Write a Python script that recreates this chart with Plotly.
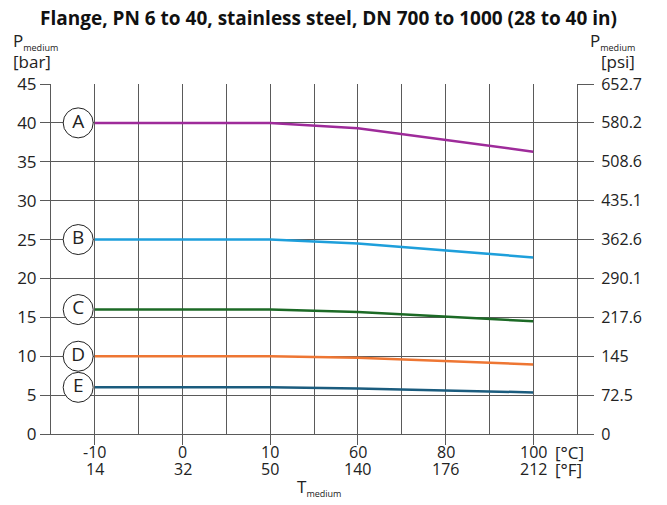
import plotly.graph_objects as go

temps_c = ["-10", "0", "10", "60", "80", "100"]
temps_f = ["14", "32", "50", "140", "176", "212"]
series_names = ["A", "B", "C", "D", "E"]
series_values = {
    "A": [40, 40, 40, 39.3, 37.8, 36.3],
    "B": [25, 25, 25, 24.5, 23.6, 22.7],
    "C": [16, 16, 16, 15.7, 15.1, 14.5],
    "D": [10, 10, 10, 9.8, 9.35, 8.95],
    "E": [6, 6, 6, 5.85, 5.6, 5.35],
}
series_colors = {
    "A": "#9E2B9A",
    "B": "#1E9FDB",
    "C": "#1C6A26",
    "D": "#EE7633",
    "E": "#1B5C7E",
}
bar_ticks = [0, 5, 10, 15, 20, 25, 30, 35, 40, 45]
psi_labels = ["0", "72.5", "145", "217.6", "290.1", "362.6", "435.1", "508.6", "580.2", "652.7"]

FONT = "Open Sans"
GRID = "#5a5a5a"
TXT = "#222"
xi = list(range(len(temps_c)))

# page body has an 8px margin; the figure is sized to fit inside the window
W, H = 659, 497

fig = go.Figure()
for name in series_names:
    fig.add_trace(go.Scatter(
        x=xi, y=series_values[name], mode="lines",
        line=dict(color=series_colors[name], width=2.5),
        showlegend=False, hoverinfo="skip", cliponaxis=False))

# labelled circles
fig.add_trace(go.Scatter(
    x=[-0.19] * len(series_names),
    y=[series_values[n][0] for n in series_names],
    mode="markers+text",
    text=series_names,
    textposition="middle center",
    textfont=dict(family=FONT, size=19, color=TXT),
    marker=dict(size=30, color="white", line=dict(color="#222", width=1)),
    showlegend=False, hoverinfo="skip", cliponaxis=False))

# invisible trace for right axis
fig.add_trace(go.Scatter(x=[0], y=[0], yaxis="y2", mode="markers",
                         marker=dict(opacity=0), showlegend=False, hoverinfo="skip"))

fig.update_layout(
    width=W, height=H,
    margin=dict(l=43, r=90, t=76, b=71, autoexpand=False),
    paper_bgcolor="white", plot_bgcolor="white",
    font=dict(family=FONT, size=16, color=TXT),
    title=dict(text="<b>Flange, PN 6 to 40, stainless steel, DN 700 to 1000 (28 to 40 in)</b>",
               x=(328.5 - 8) / W, xanchor="center", y=1 - 10 / H, yanchor="middle",
               font=dict(family=FONT, size=19, color="#111")),
    xaxis=dict(
        range=[-0.5, 5.5], tickmode="array", tickvals=xi, showticklabels=False,
        ticks="outside", ticklen=10, tickcolor=GRID, tickwidth=1,
        showgrid=True, gridcolor=GRID, gridwidth=1,
        minor=dict(tickvals=[-0.5, 0.5, 1.5, 2.5, 3.5, 4.5, 5.5], showgrid=True,
                   gridcolor=GRID, gridwidth=1, ticks=""),
        showline=True, linecolor=GRID, linewidth=1, zeroline=False,
        automargin=False, fixedrange=True),
    yaxis=dict(
        range=[0, 45], tickmode="array", tickvals=bar_ticks,
        ticks="outside", ticklen=10, tickcolor=GRID,
        showgrid=True, gridcolor=GRID, gridwidth=1,
        showline=True, linecolor=GRID, linewidth=1, zeroline=False,
        tickfont=dict(size=17), automargin=False),
    yaxis2=dict(
        range=[0, 45], overlaying="y", side="right", tickmode="array",
        tickvals=bar_ticks, ticktext=psi_labels,
        ticks="outside", ticklen=16, tickcolor=GRID, showgrid=False,
        ticklabelstandoff=4,
        showline=True, linecolor=GRID, linewidth=1, zeroline=False,
        tickfont=dict(size=16), automargin=False),
)

# reference-pixel -> paper coordinates (plot area spans x 51..577, y 84..434 in the reference)
def px_x(p):
    return (p - 51) / 526

def px_y(p):
    return (434 - p) / 350

# x tick labels (two rows) placed at the axis positions
for i, (c, f) in enumerate(zip(temps_c, temps_f)):
    fig.add_annotation(x=i, xref="x", y=px_y(452), yref="paper", text=c, showarrow=False,
                       xanchor="center", yanchor="middle", font=dict(family=FONT, size=16, color=TXT))
    fig.add_annotation(x=i, xref="x", y=px_y(469), yref="paper", text=f, showarrow=False,
                       xanchor="center", yanchor="middle", font=dict(family=FONT, size=16, color=TXT))

sub = "<sub><span style='font-size:9px'>medium</span></sub>"
annots = [
    dict(text="P" + sub, x=px_x(11), y=px_y(41), xanchor="left"),
    dict(text="[bar]", x=px_x(11), y=px_y(62), xanchor="left"),
    dict(text="P" + sub, x=px_x(588), y=px_y(41), xanchor="left"),
    dict(text="[psi]", x=px_x(599), y=px_y(62), xanchor="left"),
    dict(text="[°C]", x=px_x(553), y=px_y(452), xanchor="left"),
    dict(text="[°F]", x=px_x(553), y=px_y(469), xanchor="left"),
    dict(text="T" + sub, x=px_x(295), y=px_y(487), xanchor="left"),
]
for a in annots:
    fig.add_annotation(xref="paper", yref="paper", showarrow=False, yanchor="middle",
                       font=dict(family=FONT, size=17, color=TXT), **a)

fig.write_html("out.html")
